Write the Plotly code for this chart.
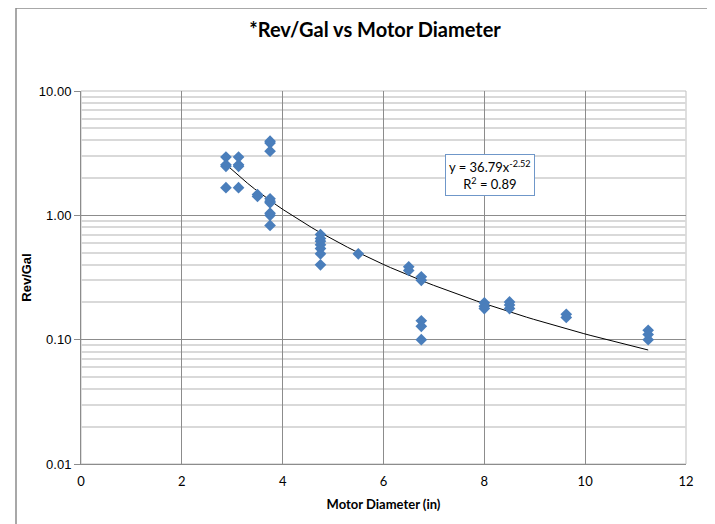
import plotly.graph_objects as go

# ---- data ----
diameter_in = [2.875, 2.875, 2.875, 2.875,
               3.125, 3.125, 3.125, 3.125,
               3.5, 3.5,
               3.75, 3.75, 3.75, 3.75, 3.75, 3.75, 3.75, 3.75, 3.75,
               4.75, 4.75, 4.75, 4.75, 4.75, 4.75, 4.75,
               5.5,
               6.5, 6.5,
               6.75, 6.75, 6.75, 6.75, 6.75,
               8.0, 8.0, 8.0,
               8.5, 8.5, 8.5,
               9.625, 9.625,
               11.25, 11.25, 11.25]
rev_per_gal = [2.94, 2.55, 2.48, 1.67,
               2.94, 2.55, 2.48, 1.67,
               1.47, 1.42,
               3.95, 3.81, 3.28, 1.36, 1.30, 1.26, 1.04, 1.00, 0.83,
               0.70, 0.65, 0.62, 0.58, 0.54, 0.49, 0.40,
               0.49,
               0.385, 0.36,
               0.32, 0.30, 0.142, 0.128, 0.100,
               0.198, 0.186, 0.178,
               0.201, 0.190, 0.178,
               0.160, 0.151,
               0.119, 0.110, 0.100]

# power trendline as displayed: y = a * x^b
trend_a = 36.79
trend_b = -2.52
trend_r2 = 0.89

x_ticks = [0, 2, 4, 6, 8, 10, 12]
y_ticks = [0.01, 0.1, 1, 10]
y_ticktext = ["0.01", "0.10", "1.00", "10.00"]

# trendline sample points across data range
x0, x1 = min(diameter_in), max(diameter_in)
n = 60
trend_x = [x0 + (x1 - x0) * i / (n - 1) for i in range(n)]
trend_y = [trend_a * xv ** trend_b for xv in trend_x]

minor_vals = []
for dec in [0.01, 0.1, 1]:
    for k in range(2, 10):
        minor_vals.append(dec * k)

# page offset (body margin) compensation: plot area 81..686 x, 91..464 y on page
OFF = 8
L, R, T, B = 81, 686, 91, 464
W, H = 715, 524
PW, PH = R - L, B - T

fig = go.Figure()
fig.add_trace(go.Scatter(
    x=trend_x, y=trend_y, mode="lines",
    line=dict(color="#000000", width=1), showlegend=False, hoverinfo="skip"))
fig.add_trace(go.Scatter(
    x=diameter_in, y=rev_per_gal, mode="markers",
    marker=dict(symbol="diamond", size=9, color="#4a7ebb"),
    showlegend=False))

fig.update_layout(
    width=W, height=H,
    margin=dict(l=L - OFF, r=W + OFF - R, t=T - OFF, b=H + OFF - B, autoexpand=False),
    paper_bgcolor="white", plot_bgcolor="white",
    title=dict(text="<b>*Rev/Gal vs Motor Diameter</b>",
               x=(375 - OFF) / W, xanchor="center",
               y=1 - (30 - OFF) / H, yanchor="middle",
               font=dict(family="Lato", size=20, color="#000000")),
    font=dict(family="Lato", color="#000000"),
)

fig.update_xaxes(
    range=[0, 12], tickvals=x_ticks, ticks="",
    showgrid=True, gridcolor="#8c8c8c", gridwidth=1,
    showline=True, linecolor="#8c8c8c", linewidth=1,
    zeroline=False, ticklabelstandoff=5,
    tickfont=dict(family="Lato", size=13),
    title=dict(text="<b>Motor Diameter (in)</b>", font=dict(family="Lato", size=13), standoff=12),
)
fig.update_yaxes(
    type="log", range=[-2, 1], tickvals=y_ticks, ticktext=y_ticktext,
    ticks="outside", ticklen=6, tickcolor="#8c8c8c",
    showgrid=True, gridcolor="#8c8c8c", gridwidth=1,
    showline=True, linecolor="#8c8c8c", linewidth=1,
    zeroline=False,
    minor=dict(tickvals=minor_vals, showgrid=True, gridcolor="#d9d9d9", gridwidth=2, ticks=""),
    tickfont=dict(family="Liberation Sans", size=13),
    title=dict(text="<b>Rev/Gal</b>", font=dict(family="Liberation Sans", size=13), standoff=4),
)

# plot area top/right border
fig.add_shape(type="rect", xref="paper", yref="paper", x0=0, y0=0, x1=1, y1=1,
              line=dict(color="#bfbfbf", width=1), layer="below")
# chart area border
fig.add_shape(type="rect", xref="paper", yref="paper",
              x0=(16 - L) / PW, y0=(B - 560) / PH, x1=(760 - L) / PW, y1=(B - 8) / PH,
              line=dict(color="#8c8c8c", width=1.5), layer="below")

fig.add_annotation(
    xref="paper", yref="paper", x=(490 - L) / PW, y=(B - 175) / PH,
    xanchor="center", yanchor="middle",
    text=f"y = {trend_a}x<sup>{trend_b}</sup><br>R<sup>2</sup> = {trend_r2}",
    showarrow=False, align="center",
    font=dict(family="Lato", size=13, color="#000000"),
    bgcolor="white", bordercolor="#6f97c9", borderwidth=1, borderpad=3,
)

fig.write_html("out.html")
